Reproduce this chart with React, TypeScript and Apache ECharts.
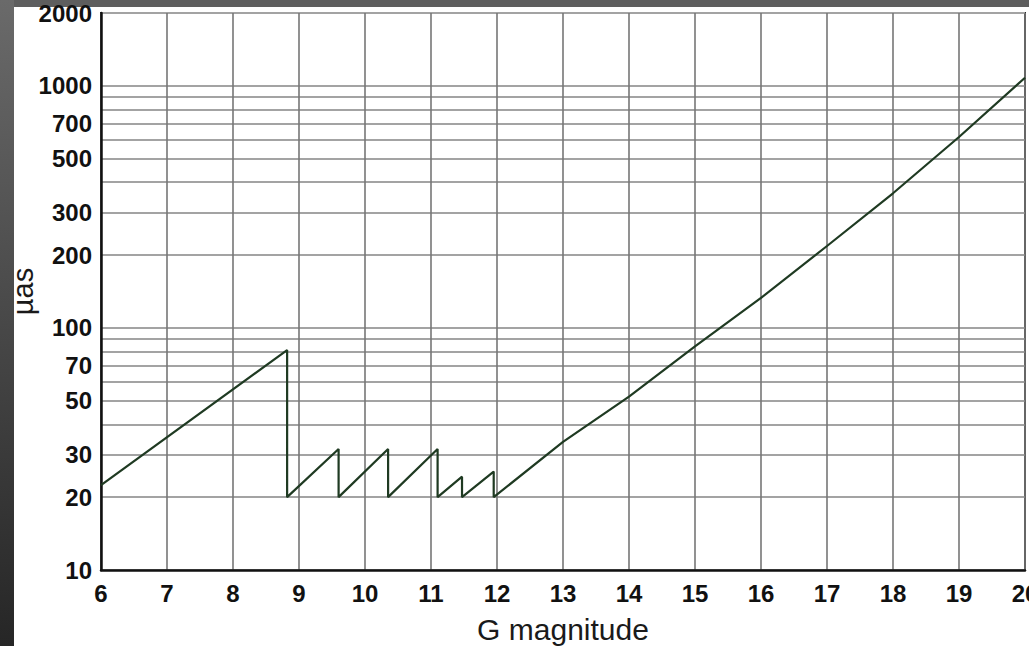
import React, { useEffect, useRef } from "react";
import * as echarts from "echarts";

// G magnitude vs. astrometric precision (µas), log-scaled y axis
const magnitudes = [6, 8.82, 8.82, 9.6, 9.6, 10.35, 10.35, 11.1, 11.1, 11.47, 11.47, 11.95, 11.95, 13, 14, 15, 16, 17, 18, 19, 20];
const precision = [22.4, 81, 20, 31.6, 20, 31.6, 20, 31.6, 20, 24.3, 20, 25.5, 20, 33.8, 52, 84, 133, 218, 360, 615, 1080];

const yLabelValues = [10, 20, 30, 50, 70, 100, 200, 300, 500, 700, 1000, 2000];
const yGridValues = [10, 20, 30, 40, 50, 60, 70, 80, 90, 100, 200, 300, 400, 500, 600, 700, 800, 900, 1000, 2000];

const Y_MIN = 10;
const Y_MAX = 2000;

export default function App() {
  const ref = useRef<HTMLDivElement>(null);

  useEffect(() => {
    if (!ref.current) return;
    const chart = echarts.init(ref.current, undefined, { renderer: "svg" });
    const lg = (v: number) => Math.log10(v);

    chart.setOption({
      animation: false,
      backgroundColor: "#ffffff",
      textStyle: { fontFamily: "Liberation Sans, Arial, sans-serif" },
      graphic: [
        {
          type: "rect",
          left: 0,
          top: 0,
          shape: { width: 1029, height: 7 },
          style: { fill: "#5e5e5e" },
          silent: true,
          z: -10,
        },
        {
          type: "rect",
          left: 0,
          top: 0,
          shape: { width: 14, height: 646 },
          style: {
            fill: new echarts.graphic.LinearGradient(0, 0, 0, 1, [
              { offset: 0, color: "#6a6a6a" },
              { offset: 1, color: "#262626" },
            ]),
          },
          silent: true,
          z: -10,
        },
      ],
      grid: {
        left: 101,
        top: 13,
        right: 4,
        bottom: 76,
        containLabel: false,
        outerBoundsMode: "none",
        show: true,
        borderColor: "#2a2a2a",
        borderWidth: 2,
        backgroundColor: "#ffffff",
      },
      xAxis: {
        type: "value",
        min: 6,
        max: 20,
        interval: 1,
        name: "G magnitude",
        nameLocation: "middle",
        nameGap: 44,
        nameMoveOverlap: false,
        nameTextStyle: { fontSize: 30, color: "#1a1a1a" },
        axisLine: { show: true, onZero: false, lineStyle: { color: "#111", width: 2.5 } },
        axisTick: { show: false },
        axisLabel: { fontSize: 24, fontWeight: "bold", color: "#111", margin: 11 },
        splitLine: { show: true, lineStyle: { color: "#767676", width: 1.6 } },
      },
      yAxis: {
        type: "value",
        min: lg(Y_MIN),
        max: lg(Y_MAX),
        name: "µas",
        nameLocation: "middle",
        nameGap: 64,
        nameMoveOverlap: false,
        nameTextStyle: { fontSize: 29, color: "#1a1a1a" },
        axisLine: { show: true, lineStyle: { color: "#111", width: 2.5 } },
        axisTick: { show: false, customValues: yGridValues.map(lg) },
        axisLabel: {
          customValues: yLabelValues.map(lg),
          fontSize: 24,
          fontWeight: "bold",
          color: "#111",
          margin: 9,
          formatter: (v: number) => String(Math.round(Math.pow(10, v))),
        },
        splitLine: { show: true, lineStyle: { color: "#a3a3a3", width: 2 } },
      },
      series: [
        {
          type: "line",
          data: magnitudes.map((m, i) => [m, lg(precision[i])]),
          showSymbol: false,
          symbol: "none",
          lineStyle: { color: "#1f3a22", width: 2.2 },
          z: 5,
        },
      ],
    });

    return () => chart.dispose();
  }, []);

  return (
    <div
      ref={ref}
      style={{ position: "fixed", left: 0, top: 0, width: 1029, height: 646 }}
    />
  );
}
